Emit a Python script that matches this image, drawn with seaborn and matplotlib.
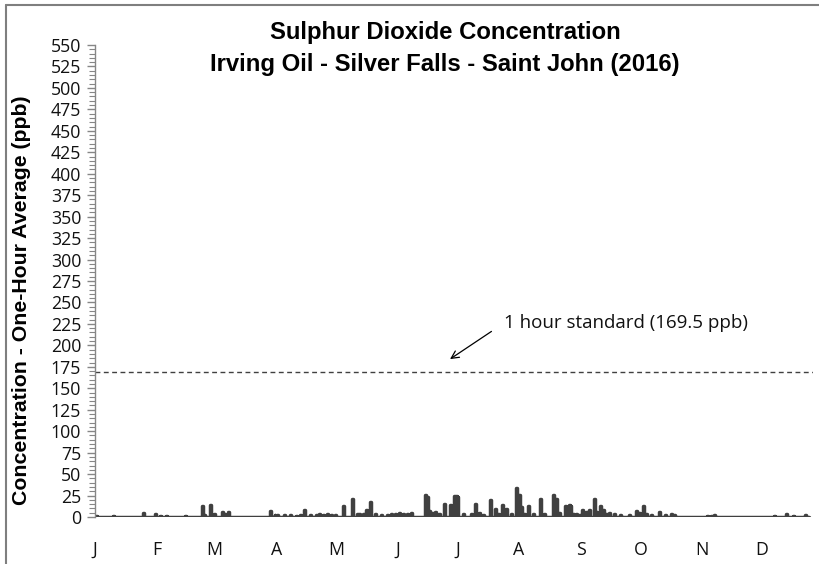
import pandas as pd
import matplotlib.pyplot as plt
from matplotlib.lines import Line2D
import seaborn as sns

# Hourly SO2 peaks: day of year (0 = Jan 1) and ppb
spike_day = (
    [1, 9.5, 24.6, 30.6, 33, 36, 45.7]                                    # Jan-Feb
    + [54.2, 55.2, 57.8, 59.8, 63.8, 64.8, 66.8]                          # late Feb-Mar
    + [87.9, 90.4, 91.9, 95, 98, 101, 103, 105, 108, 111, 113, 115, 117, 119]  # Apr
    + [121, 125, 129.4, 131.6, 133, 134.6, 136.5, 138.5, 141, 144, 147,
       149, 151, 153, 155, 157, 159]                                       # May
    + [166.2, 166.9, 168.2, 169.5, 171, 172.8, 175.4, 178.3, 180.8, 181.5,
       182.3, 185, 189.2, 191.2, 192.9, 195, 198.7, 200.9, 202.5, 204.8,
       206.8, 209]                                                         # Jun-Jul
    + [211.8, 213, 214, 215.5, 217.6, 220, 223.5, 226, 230.5, 231.9, 233.5,
       236.1, 238.2, 238.9, 240.5]                                         # Aug
    + [241.9, 243.5, 245, 246.6, 248.6, 250.8, 252, 254, 255.3, 257, 258.3,
       260.7, 263.7, 268.4, 272.1, 273.4, 275.4, 277, 279.3, 283.4, 286.3,
       289.7, 291]                                                         # Sep-Oct
    + [307.5, 309.5, 311, 341.5, 347.4, 351, 357]                          # Nov-Dec
)
spike_ppb = (
    [1, 1, 4.7, 3, 1.5, 1.5, 1.2]
    + [12.4, 2, 14.4, 3.9, 5.8, 4, 5.8]
    + [6.6, 2, 2, 2, 2.5, 1.5, 2, 8.5, 2.5, 2, 3, 2.5, 3, 2.5]
    + [2, 12.4, 21.4, 3, 4, 3, 7.8, 17.5, 3, 2, 2, 4, 3.5, 4.5, 4, 3, 4.7]
    + [25.2, 23, 7, 5, 6, 4, 15.5, 14.4, 24.5, 24, 23.5, 3, 4, 15.5, 4.7, 2,
       19.4, 9.7, 4, 14.4, 9.7, 3]
    + [33.8, 25.2, 11.7, 4, 12.4, 3, 20.6, 4, 25.2, 20.6, 5, 12.4, 13.6, 12.4, 3]
    + [4, 2.5, 8.5, 5.8, 7.8, 21.4, 5.8, 13.2, 7.8, 3, 4.7, 3.9, 2, 2, 7, 4.7,
       12.4, 3, 2.7, 5.4, 2, 3.9, 2.5]
    + [1.5, 1.5, 2, 1.5, 3.9, 1.5, 2]
)
assert len(spike_day) == len(spike_ppb)

baseline_ppb = 0.5
last_day = 358.6
standard_ppb = 169.5
month_labels = ['J', 'F', 'M', 'A', 'M', 'J', 'J', 'A', 'S', 'O', 'N', 'D']

# build a stepped trace (each peak lasts a few hours)
half_w = 0.25
xs, ys = [0], [baseline_ppb]
for d, v in zip(spike_day, spike_ppb):
    xs += [d - half_w, d - half_w, d + half_w, d + half_w]
    ys += [baseline_ppb, v, v, baseline_ppb]
xs.append(last_day)
ys.append(baseline_ppb)

start = pd.Timestamp('2016-01-01')
df = pd.DataFrame({'time': start + pd.to_timedelta(xs, unit='D'), 'so2': ys})

sns.set_style('white')
plt.rcParams['font.family'] = ['Open Sans', 'DejaVu Sans']
plt.rcParams['text.color'] = '#111111'
plt.rcParams['ytick.labelcolor'] = '#111111'
plt.rcParams['xtick.labelcolor'] = '#111111'
bold_font = ['Liberation Sans', 'DejaVu Sans']

fig = plt.figure(figsize=(8.2, 5.64), dpi=100)
ax = fig.add_axes([95 / 820, 1 - 517 / 564, (813 - 95) / 820, (517 - 45) / 564])

sns.lineplot(data=df, x='time', y='so2', estimator=None, sort=False,
             color='#404040', linewidth=2.5, ax=ax)
ax.axhline(standard_ppb, color='#404040', linewidth=1.0, linestyle=(0, (3.5, 2.5)))

ax.set_ylim(0, 550)
ax.set_yticks(range(0, 551, 25))
ax.set_yticks(range(0, 551, 5), minor=True)
ax.set_xlim(start, start + pd.Timedelta(days=360.6))
ax.set_xticks(pd.date_range('2016-01-01', periods=12, freq='MS'))
ax.set_xticklabels(month_labels)
ax.xaxis.set_minor_locator(plt.NullLocator())

ax.tick_params(axis='y', which='major', direction='out', length=6, width=1,
               color='#868686', labelsize=12.8, pad=4, left=True)
ax.tick_params(axis='y', which='minor', direction='out', length=4, width=0.8,
               color='#868686', left=True)
ax.tick_params(axis='x', length=0, labelsize=12.8, pad=17)

for side in ['top', 'right', 'bottom']:
    ax.spines[side].set_visible(False)
ax.spines['left'].set_color('#868686')
ax.spines['left'].set_linewidth(1)

ax.set_xlabel('')
ax.set_ylabel('')
fig.text(22 / 820, 1 - 300 / 564, 'Concentration - One-Hour Average (ppb)',
         rotation=90, ha='center', va='center', fontsize=15.3, fontweight='bold',
         family=bold_font, color='black')

fig.text(445 / 820, 1 - 33 / 564, 'Sulphur Dioxide Concentration',
         ha='center', va='center', fontsize=17.2, fontweight='bold',
         family=bold_font, color='black')
fig.text(445 / 820, 1 - 65 / 564, 'Irving Oil - Silver Falls - Saint John (2016)',
         ha='center', va='center', fontsize=17.2, fontweight='bold',
         family=bold_font, color='black')

ax.annotate('1 hour standard (169.5 ppb)',
            xy=(start + pd.Timedelta(days=178.3), 184),
            xytext=(start + pd.Timedelta(days=205.4), 226),
            ha='left', va='center', fontsize=13.5,
            arrowprops=dict(arrowstyle='->', color='black', lw=0.9,
                            shrinkA=8, shrinkB=0, relpos=(0, 0.5)))

# chart frame (top and left edges visible in the crop)
fig.add_artist(Line2D([6 / 820, 6 / 820], [0, 1 - 5 / 564], color='#7f7f7f', lw=1.5))
fig.add_artist(Line2D([6 / 820, 1], [1 - 5 / 564, 1 - 5 / 564], color='#7f7f7f', lw=1.5))

fig.savefig('out.png', dpi=100)
